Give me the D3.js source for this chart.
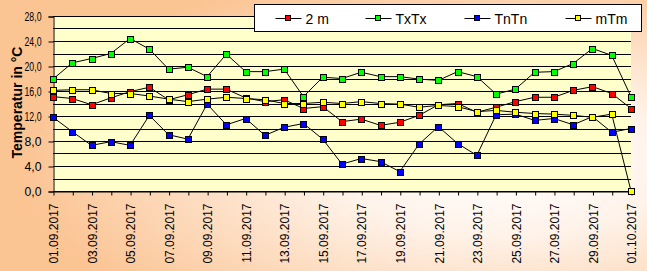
<!DOCTYPE html>
<html>
<head>
<meta charset="utf-8">
<script src="https://cdn.jsdelivr.net/npm/d3@7"></script>
<style>
  body { margin:0; }
  svg text { font-family: "Liberation Sans", Arial, sans-serif; fill:#000; }
</style>
</head>
<body>
<svg id="chart"></svg>
<script>
// dates 01.09.2017 .. 01.10.2017
var days = d3.range(1, 31).map(function(d){ return (d < 10 ? "0" + d : "" + d) + ".09.2017" })
days.push("01.10.2017")

var t2m  = [15.1,14.8,13.8,14.9,15.9,16.6,14.6,15.4,16.3,16.3,14.9,14.3,14.6,13.2,13.5,11.1,11.5,10.5,11.0,12.1,13.8,14.0,12.6,13.4,14.3,15.0,15.0,16.1,16.7,15.6,13.2]
var txtx = [17.9,20.5,21.2,22.0,24.4,22.7,19.5,19.8,18.3,21.9,19.1,19.1,19.5,15.1,18.2,18.0,19.0,18.3,18.3,17.9,17.7,19.1,18.3,15.5,16.3,19.0,19.1,20.4,22.8,21.7,15.1]
var tntn = [11.8,9.5,7.3,7.9,7.3,12.1,9.0,8.3,13.9,10.6,11.6,8.9,10.2,10.8,8.3,4.3,5.2,4.7,3.1,7.5,10.3,7.6,5.7,12.2,12.3,11.3,11.6,10.6,11.9,9.4,10.0]
var mtm  = [16.1,16.2,16.2,15.6,15.6,15.2,14.7,14.3,14.7,15.0,14.8,14.6,14.0,14.0,14.2,14.0,14.3,14.0,13.9,13.4,13.7,13.5,12.7,12.9,12.6,12.4,12.3,12.1,11.8,12.3,0.0]

var seriesNames = ["2 m", "TxTx", "TnTn", "mTm"]
var seriesColors = ["#ff0000", "#00ff00", "#0000ff", "#ffff00"]
var seriesValues = [t2m, txtx, tntn, mtm]
var yTicks = [0, 4, 8, 12, 16, 20, 24, 28]
var yGrid = d3.range(0, 29, 2)

var screen = {width:647, height:271}
var svg = d3.select("#chart").attr("width", screen.width).attr("height", screen.height)

// background
var defs = svg.append("defs")
var grad = defs.append("radialGradient").attr("id", "bg")
    .attr("cx", 0.78).attr("cy", 0.6).attr("r", 0.75)
grad.append("stop").attr("offset", "0").attr("stop-color", "#ffffff")
grad.append("stop").attr("offset", "0.35").attr("stop-color", "#fff3ea")
grad.append("stop").attr("offset", "1").attr("stop-color", "#fbc493")
svg.append("rect").attr("width", screen.width).attr("height", screen.height).attr("fill", "url(#bg)")

var xScale = d3.scalePoint().domain(days).range([53, 631])
var yScale = d3.scaleLinear().domain([0, 28]).range([191, 16])

// plot area
svg.append("rect")
    .attr("x", xScale(days[0])).attr("y", yScale(28))
    .attr("width", xScale(days[days.length-1]) - xScale(days[0]))
    .attr("height", yScale(0) - yScale(28))
    .attr("fill", "#ffffcc")

svg.append("g").selectAll("line").data(yGrid).enter().append("line")
    .attr("x1", xScale(days[0])).attr("x2", xScale(days[days.length-1]))
    .attr("y1", function(d){ return Math.round(yScale(d)) + 0.5 })
    .attr("y2", function(d){ return Math.round(yScale(d)) + 0.5 })
    .attr("stroke", "#000").attr("stroke-width", 1)

// axes
var yAxis = d3.axisLeft(yScale).tickValues(yTicks).tickSize(5).tickPadding(7)
    .tickFormat(function(d){ return d3.format(".1f")(d).replace(".", ",") })
var gy = svg.append("g").attr("transform", "translate(" + (xScale(days[0]) + 0.5) + ",0.5)").call(yAxis)
gy.select(".domain").attr("stroke", "#000")
gy.selectAll("text").attr("font-size", 12).attr("textLength", 17).attr("lengthAdjust", "spacingAndGlyphs")
    .style("font-family", "'Liberation Sans', Arial, sans-serif")

var xAxis = d3.axisBottom(xScale).tickSize(4).tickSizeOuter(0)
    .tickFormat(function(d, i){ return i % 2 == 0 ? d : "" })
var gx = svg.append("g").attr("transform", "translate(0.5," + (yScale(0) + 0.5) + ")").call(xAxis)
gx.select(".domain").attr("stroke", "#000")
gx.selectAll("text")
    .attr("font-size", 12)
    .style("font-family", "'Liberation Sans', Arial, sans-serif")
    .attr("text-anchor", "end")
    .attr("transform", "rotate(-90)")
    .attr("x", -12).attr("y", 0).attr("dy", "0.35em")

svg.append("text")
    .text("Temperatur in °C")
    .attr("font-size", 14).attr("font-weight", "bold")
    .attr("text-anchor", "middle")
    .attr("transform", "translate(22," + (yScale(14) - 1) + ") rotate(-90)")

// series
var line = d3.line()
    .x(function(d, i){ return xScale(days[i]) })
    .y(function(d){ return yScale(d) })

seriesValues.forEach(function(vals, s) {
    var g = svg.append("g").classed("series", true)
    g.append("path").attr("d", line(vals))
        .attr("fill", "none").attr("stroke", "#000").attr("stroke-width", 1)
    g.selectAll("rect").data(vals).enter().append("rect")
        .attr("x", function(d, i){ return Math.round(xScale(days[i])) - 3 + 0.5 })
        .attr("y", function(d){ return Math.round(yScale(d)) - 3 + 0.5 })
        .attr("width", 6).attr("height", 6)
        .attr("fill", seriesColors[s]).attr("stroke", "#000").attr("stroke-width", 1)
})

// legend
var legend = svg.append("g").attr("transform", "translate(254.5,4.5)")
legend.append("rect").attr("width", 387).attr("height", 27)
    .attr("fill", "#fff").attr("stroke", "#000").attr("stroke-width", 1)
var itemX = [21, 111, 210, 311]
seriesNames.forEach(function(name, s) {
    var it = legend.append("g").attr("transform", "translate(" + itemX[s] + ",14)")
    it.append("line").attr("x1", 0).attr("x2", 26).attr("y1", 0).attr("y2", 0).attr("stroke", "#000")
    it.append("rect").attr("x", 10).attr("y", -3).attr("width", 5).attr("height", 5)
        .attr("fill", seriesColors[s]).attr("stroke", "#000")
    it.append("text").text(name).attr("x", 30).attr("y", 0).attr("dy", "0.36em").attr("font-size", 14)
})
</script>
</body>
</html>
